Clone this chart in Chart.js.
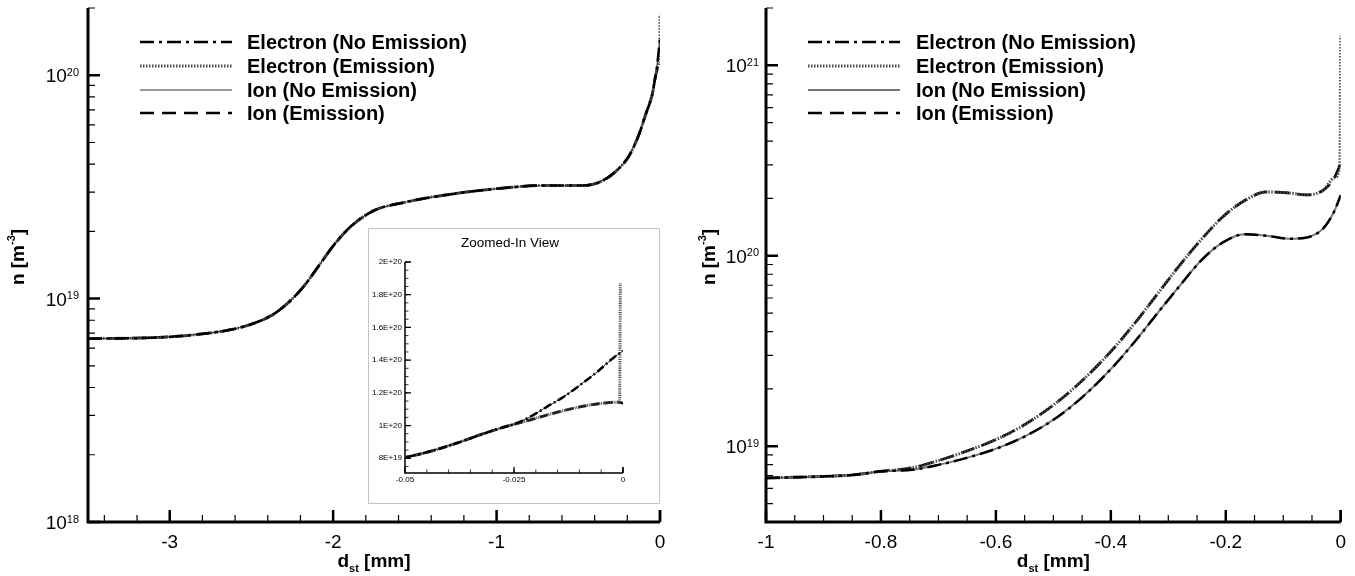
<!DOCTYPE html>
<html>
<head>
<meta charset="utf-8">
<script src="https://cdn.jsdelivr.net/npm/chart.js@4.4.1/dist/chart.umd.min.js"></script>
<style>
body { margin: 0; background: #fff; width: 1355px; height: 576px; overflow: hidden; position: relative; }
.box { position: absolute; }
#leftBox { left: 0; top: 0; }
#rightBox { left: 680px; top: 0; }
#insetBox { left: 368px; top: 228px; border: 1px solid #c4c4c4; background: #fff; }
canvas { display: block; }
</style>
</head>
<body>
<div class="box" id="leftBox"><canvas id="leftChart" width="680" height="576"></canvas></div>
<div class="box" id="rightBox"><canvas id="rightChart" width="675" height="576"></canvas></div>
<div class="box" id="insetBox"><canvas id="insetChart" width="290" height="274"></canvas></div>
<script>
const FONT = '"Liberation Sans", Arial, Helvetica, sans-serif';

const seriesNames = ["Electron (No Emission)", "Electron (Emission)", "Ion (No Emission)", "Ion (Emission)"];

// left panel: all four profiles lie on top of each other up to x = -0.025 mm
const leftX = [-3.5, -3.07, -2.84, -2.65, -2.51, -2.37, -2.27, -2.18, -2.08, -1.99, -1.89, -1.75, -1.56, -1.30, -0.95, -0.71, -0.47, -0.38, -0.28, -0.19, -0.13, -0.09];
const leftN = [6.62e18, 6.70e18, 6.90e18, 7.21e18, 7.64e18, 8.47e18, 9.66e18, 1.135e19, 1.429e19, 1.758e19, 2.11e19, 2.48e19, 2.70e19, 2.92e19, 3.13e19, 3.21e19, 3.21e19, 3.30e19, 3.66e19, 4.35e19, 5.4e19, 6.6e19];

// zoomed-in region near the wall
const zoomX = [-0.05, -0.0444, -0.0382, -0.0328, -0.0274, -0.025];
const zoomN = [8.06e19, 8.41e19, 8.92e19, 9.43e19, 9.90e19, 1.008e20];
const noEmX = [-0.0212, -0.0174, -0.0135, -0.0096, -0.0058, -0.0023, 0];
const noEmN = [1.055e20, 1.116e20, 1.178e20, 1.253e20, 1.331e20, 1.412e20, 1.457e20];
const emX = [-0.0212, -0.0174, -0.0135, -0.0096, -0.0058, -0.0012, 0];
const emN = [1.035e20, 1.065e20, 1.092e20, 1.116e20, 1.133e20, 1.143e20, 1.137e20];
const emSpikeX = [-0.0008, -0.0006];
const emSpikeN = [1.14e20, 1.87e20];

// right panel
const rightX = [-1, -0.93, -0.85, -0.80];
const rightN = [6.81e18, 6.90e18, 7.06e18, 7.38e18];
const rightTailX = [-0.745, -0.70, -0.654, -0.597, -0.548, -0.494, -0.449, -0.395, -0.357, -0.319, -0.281, -0.243, -0.205, -0.167, -0.129, -0.091, -0.061, -0.030, -0.011, 0];
const rightEmN = [7.71e18, 8.41e18, 9.35e18, 1.094e19, 1.309e19, 1.698e19, 2.223e19, 3.266e19, 4.477e19, 6.295e19, 8.85e19, 1.213e20, 1.603e20, 1.95e20, 2.163e20, 2.138e20, 2.09e20, 2.213e20, 2.57e20, 3.07e20];
const rightNoEmN = [7.53e18, 7.98e18, 8.63e18, 9.77e18, 1.132e19, 1.416e19, 1.816e19, 2.636e19, 3.581e19, 4.989e19, 6.902e19, 9.44e19, 1.175e20, 1.297e20, 1.274e20, 1.23e20, 1.245e20, 1.396e20, 1.718e20, 2.08e20];
const rightSpikeX = [-0.0015, 0];
const rightSpikeN = [3.0e20, 1.43e21];

// inset y tick values
const insetTicks = [8e19, 1e20, 1.2e20, 1.4e20, 1.6e20, 1.8e20, 2e20];


function pts(xs, ns) {
    return xs.map((x, i) => ({ x: x, y: ns[i] }));
}

const leftBase = pts(leftX, leftN).concat(pts(zoomX, zoomN));
const leftLists = [
    leftBase.concat(pts(noEmX, noEmN)),
    leftBase.concat(pts(emX.slice(0, 6), emN.slice(0, 6)), pts(emSpikeX, emSpikeN)),
    leftBase.concat(pts(noEmX, noEmN)),
    leftBase.concat(pts(emX, emN))
];

const rightBase = pts(rightX, rightN);
const rightLists = [
    rightBase.concat(pts(rightTailX, rightNoEmN)),
    rightBase.concat(pts(rightTailX.slice(0, -1), rightEmN.slice(0, -1)), pts(rightSpikeX, rightSpikeN)),
    rightBase.concat(pts(rightTailX, rightNoEmN)),
    rightBase.concat(pts(rightTailX, rightEmN))
];

function makeSets(lists, k, solidColor, solidWidth) {
    const styles = [
        { borderDash: [14, 5, 3, 5], borderWidth: 2.5, borderColor: "#000" },
        { borderDash: [1.5, 1.5], borderWidth: 3, borderColor: "#4a4a4a" },
        { borderDash: [], borderWidth: solidWidth, borderColor: solidColor },
        { borderDash: [14, 8], borderWidth: 2.7, borderColor: "#000" }
    ];
    return lists.map((d, i) => ({
        label: seriesNames[i],
        data: d,
        borderColor: styles[i].borderColor,
        borderWidth: styles[i].borderWidth,
        borderDash: styles[i].borderDash.map(v => v * k),
        pointRadius: 0,
        fill: false,
        cubicInterpolationMode: "monotone"
    }));
}

function steps(min, max, step) {
    const out = [];
    for (let k = Math.ceil(min / step - 1e-6); k * step <= max + step * 1e-6; k++) out.push(k * step);
    return out;
}

function logSteps(min, max, minor) {
    const out = [];
    for (let e = Math.floor(Math.log10(min)); e <= Math.ceil(Math.log10(max)); e++) {
        const ms = minor ? [2, 3, 4, 5, 6, 7, 8, 9] : [1];
        ms.forEach(m => {
            const v = m * Math.pow(10, e);
            if (v >= min * 0.999 && v <= max * 1.001) out.push(v);
        });
    }
    return out;
}

function xMarks(ctx, s, vals, y0, len, w) {
    ctx.lineWidth = w;
    ctx.beginPath();
    vals.forEach(v => {
        const p = s.getPixelForValue(v);
        ctx.moveTo(p, y0);
        ctx.lineTo(p, y0 - len);
    });
    ctx.stroke();
}

function yMarks(ctx, s, vals, x0, len, w) {
    ctx.lineWidth = w;
    ctx.beginPath();
    vals.forEach(v => {
        const p = s.getPixelForValue(v);
        ctx.moveTo(x0, p);
        ctx.lineTo(x0 + len, p);
    });
    ctx.stroke();
}

const decor = {
    id: "decor",
    afterDraw(chart, args, o) {
        const ctx = chart.ctx;
        const a = chart.chartArea;
        const xs = chart.scales.x;
        const ys = chart.scales.y;
        ctx.save();
        ctx.strokeStyle = "#000";
        ctx.fillStyle = "#000";
        ctx.setLineDash([]);

        // ticks pointing into the plot
        xMarks(ctx, xs, steps(xs.min, xs.max, o.xMinor), a.bottom, o.minLen, o.minW);
        xMarks(ctx, xs, steps(xs.min, xs.max, o.xMajor), a.bottom, o.majLen, o.majW);
        if (o.logY) {
            yMarks(ctx, ys, logSteps(ys.min, ys.max, true), a.left, o.minLen, o.minW);
            yMarks(ctx, ys, logSteps(ys.min, ys.max, false), a.left, o.majLen, o.majW);
        } else {
            yMarks(ctx, ys, steps(ys.min, ys.max, o.yMinor), a.left, o.minLen, o.minW);
            yMarks(ctx, ys, steps(ys.min, ys.max, o.yMajor), a.left, o.majLen, o.majW);
        }

        // axis lines
        ctx.lineWidth = o.axisW;
        ctx.beginPath();
        ctx.moveTo(a.left, a.top);
        ctx.lineTo(a.left, a.bottom);
        ctx.lineTo(a.right, a.bottom);
        ctx.stroke();
        ctx.lineWidth = o.majW;
        ctx.beginPath();
        ctx.moveTo(a.right, a.bottom);
        ctx.lineTo(a.right, a.bottom - o.majLen);
        ctx.stroke();

        // 10^n labels
        if (o.logY) {
            logSteps(ys.min, ys.max, false).forEach(v => {
                const e = Math.round(Math.log10(v));
                const py = ys.getPixelForValue(v);
                ctx.textAlign = "left";
                ctx.textBaseline = "alphabetic";
                ctx.font = "11px " + FONT;
                const sw = ctx.measureText(String(e)).width;
                const xr = a.left - o.labelGap;
                ctx.fillText(String(e), xr - sw, py + 0.5);
                ctx.font = "19px " + FONT;
                ctx.textAlign = "right";
                ctx.fillText("10", xr - sw, py + 7);
            });
        }

        // axis titles
        if (o.xTitleY) {
            const big = "bold 19px " + FONT;
            const small = "bold 11px " + FONT;
            ctx.textAlign = "left";
            ctx.textBaseline = "alphabetic";
            ctx.font = big;
            const w1 = ctx.measureText("d").width;
            const w3 = ctx.measureText(" [mm]").width;
            ctx.font = small;
            const w2 = ctx.measureText("st").width;
            let sx = (a.left + a.right) / 2 - (w1 + w2 + w3) / 2;
            ctx.font = big;
            ctx.fillText("d", sx, o.xTitleY);
            ctx.font = small;
            ctx.fillText("st", sx + w1, o.xTitleY + 5);
            ctx.font = big;
            ctx.fillText(" [mm]", sx + w1 + w2, o.xTitleY);

            ctx.save();
            ctx.translate(o.yTitleX, o.yTitleY);
            ctx.rotate(-Math.PI / 2);
            ctx.font = big;
            const v1 = ctx.measureText("n [m").width;
            const v3 = ctx.measureText("]").width;
            ctx.font = small;
            const v2 = ctx.measureText("-3").width;
            const ux = -(v1 + v2 + v3) / 2;
            ctx.font = big;
            ctx.fillText("n [m", ux, 7);
            ctx.font = small;
            ctx.fillText("-3", ux + v1, -2);
            ctx.font = big;
            ctx.fillText("]", ux + v1 + v2, 7);
            ctx.restore();
        }

        // inset title
        if (o.title) {
            ctx.font = "13.5px " + FONT;
            ctx.textAlign = "center";
            ctx.textBaseline = "middle";
            ctx.fillText(o.title, o.titleX, o.titleY);
        }

        // legend
        if (o.legend) {
            const L = o.legend;
            chart.data.datasets.forEach((ds, i) => {
                const ry = L.rows[i];
                ctx.strokeStyle = ds.borderColor;
                ctx.lineWidth = ds.borderWidth;
                ctx.setLineDash(ds.borderDash);
                ctx.beginPath();
                ctx.moveTo(L.x0, ry);
                ctx.lineTo(L.x1, ry);
                ctx.stroke();
                ctx.setLineDash([]);
                ctx.fillStyle = "#000";
                ctx.font = "bold 20px " + FONT;
                ctx.textAlign = "left";
                ctx.textBaseline = "middle";
                ctx.fillText(ds.label, L.tx, ry + 1);
            });
        }
        ctx.restore();
    }
};

function cleanNum(v) {
    return String(parseFloat(Number(v).toFixed(4)));
}

function sci(v) {
    const e = Math.floor(Math.log10(v) + 1e-9);
    const m = Math.round(v / Math.pow(10, e) * 10) / 10;
    return m + "E+" + e;
}

function panel(id, lists, cfg) {
    const y = {
        type: cfg.yType,
        min: cfg.yMin,
        max: cfg.yMax,
        afterFit: s => { s.width = cfg.yW; },
        grid: { display: false, drawTicks: false },
        border: { display: false },
        ticks: cfg.yTicks
    };
    if (cfg.yValues) {
        y.afterBuildTicks = s => { s.ticks = cfg.yValues.map(v => ({ value: v })); };
    }
    return new Chart(document.getElementById(id), {
        type: "line",
        data: { datasets: makeSets(lists, cfg.k, cfg.solidColor, cfg.solidWidth) },
        options: {
            responsive: false,
            animation: false,
            events: [],
            layout: { padding: cfg.pad },
            plugins: {
                legend: { display: false },
                tooltip: { enabled: false },
                decor: cfg.decor
            },
            scales: {
                x: {
                    type: "linear",
                    min: cfg.xMin,
                    max: cfg.xMax,
                    afterFit: s => { s.height = cfg.xH; },
                    grid: { display: false, drawTicks: false },
                    border: { display: false },
                    ticks: {
                        stepSize: cfg.xStep,
                        includeBounds: false,
                        autoSkip: false,
                        maxRotation: 0,
                        padding: cfg.xPad,
                        color: "#000",
                        font: { family: FONT, size: cfg.xFont },
                        callback: v => cleanNum(v)
                    }
                },
                y: y
            }
        },
        plugins: [decor]
    });
}

panel("leftChart", leftLists, {
    k: 1, solidColor: "#333", solidWidth: 1.2,
    pad: { left: 0, top: 8, right: 20, bottom: 0 },
    xMin: -3.5, xMax: 0, xStep: 1, xH: 54, xPad: 9, xFont: 19,
    yType: "logarithmic", yMin: 1e18, yMax: 2e20, yW: 88,
    yTicks: { display: false },
    decor: {
        xMajor: 1, xMinor: 0.2, logY: true,
        majLen: 12, minLen: 7, majW: 2.5, minW: 1.2, axisW: 3, labelGap: 9,
        xTitleY: 567, yTitleX: 17, yTitleY: 257,
        legend: { x0: 140, x1: 232, tx: 247, rows: [42, 66, 90, 113] }
    }
});

panel("rightChart", rightLists, {
    k: 1, solidColor: "#777", solidWidth: 2,
    pad: { left: 0, top: 8, right: 12, bottom: 0 },
    xMin: -1, xMax: 0, xStep: 0.2, xH: 54, xPad: 9, xFont: 19,
    yType: "logarithmic", yMin: 4e18, yMax: 2e21, yW: 86,
    yTicks: { display: false },
    decor: {
        xMajor: 0.2, xMinor: 0.05, logY: true,
        majLen: 12, minLen: 7, majW: 2.5, minW: 1.2, axisW: 3, labelGap: 7,
        xTitleY: 567, yTitleX: 28, yTitleY: 257,
        legend: { x0: 128, x1: 220, tx: 236, rows: [42, 66, 90, 113] }
    }
});

panel("insetChart", leftLists, {
    k: 0.6, solidColor: "#333", solidWidth: 1,
    pad: { left: 0, top: 33, right: 36, bottom: 0 },
    xMin: -0.05, xMax: 0, xStep: 0.025, xH: 30, xPad: 2, xFont: 8,
    yType: "linear", yMin: 7.1e19, yMax: 2e20, yW: 36,
    yValues: insetTicks,
    yTicks: {
        padding: 3,
        color: "#000",
        font: { family: FONT, size: 8 },
        callback: v => sci(v)
    },
    decor: {
        xMajor: 0.025, xMinor: 0.005, yMajor: 2e19, yMinor: 5e18, logY: false,
        majLen: 6, minLen: 3.5, majW: 1.3, minW: 0.8, axisW: 1.5,
        title: "Zoomed-In View", titleX: 141, titleY: 14
    }
});
</script>
</body>
</html>
